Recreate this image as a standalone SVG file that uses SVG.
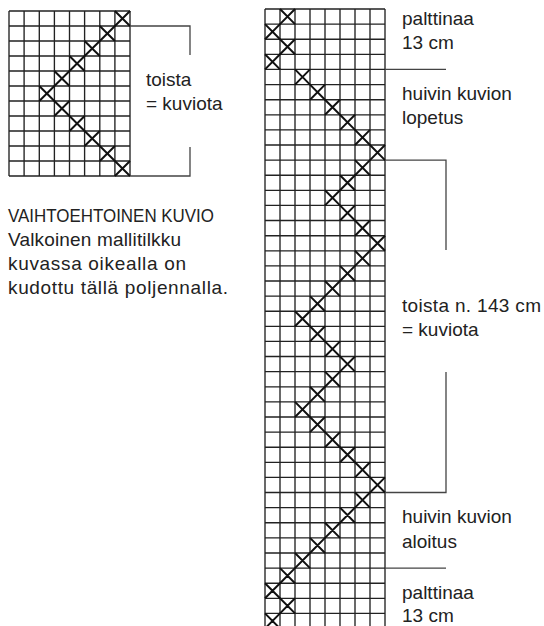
<svg xmlns="http://www.w3.org/2000/svg" width="544" height="626" viewBox="0 0 544 626">
<style>
.grid{fill:none;stroke:#222;stroke-width:1.35}
.x{fill:none;stroke:#111;stroke-width:2}
.br{fill:none;stroke:#444;stroke-width:1.3}
.t{font-family:"Liberation Sans",Arial,sans-serif;font-size:19px;fill:#222}
</style>
<rect width="544" height="626" fill="#fff"/>
<g id="left-grid">
<path class="grid" d="M9 11V176M24.1 11V176M39.3 11V176M54.4 11V176M69.5 11V176M84.6 11V176M99.8 11V176M114.9 11V176M130 11V176M9 11H130M9 26H130M9 41H130M9 56H130M9 71H130M9 86H130M9 101H130M9 116H130M9 131H130M9 146H130M9 161H130M9 176H130"/>
<path class="x" d="M114.9 11L130 26M130 11L114.9 26M99.8 26L114.9 41M114.9 26L99.8 41M84.6 41L99.8 56M99.8 41L84.6 56M69.5 56L84.6 71M84.6 56L69.5 71M54.4 71L69.5 86M69.5 71L54.4 86M39.3 86L54.4 101M54.4 86L39.3 101M54.4 101L69.5 116M69.5 101L54.4 116M69.5 116L84.6 131M84.6 116L69.5 131M84.6 131L99.8 146M99.8 131L84.6 146M99.8 146L114.9 161M114.9 146L99.8 161M114.9 161L130 176M130 161L114.9 176"/>
</g>
<g id="left-bracket">
<path class="br" d="M130 26H190V55M190 147V176H130"/>
<text class="t" x="146" y="86">toista</text>
<text class="t" x="146" y="110">= kuviota</text>
</g>
<g id="left-note">
<text class="t" x="8" y="222" textLength="206" lengthAdjust="spacingAndGlyphs">VAIHTOEHTOINEN KUVIO</text>
<text class="t" x="8" y="246" textLength="173">Valkoinen mallitilkku</text>
<text class="t" x="8" y="270" textLength="178">kuvassa oikealla on</text>
<text class="t" x="8" y="294" textLength="220">kudottu tällä poljennalla.</text>
</g>
<g id="right-grid">
<path class="grid" d="M265 9V626M280 9V626M295 9V626M310 9V626M325 9V626M340 9V626M355 9V626M370 9V626M385 9V626M265 9H385M265 24.1H385M265 39.2H385M265 54.3H385M265 69.4H385M265 84.6H385M265 99.7H385M265 114.8H385M265 129.9H385M265 145H385M265 160.1H385M265 175.2H385M265 190.3H385M265 205.4H385M265 220.5H385M265 235.7H385M265 250.8H385M265 265.9H385M265 281H385M265 296.1H385M265 311.2H385M265 326.3H385M265 341.4H385M265 356.5H385M265 371.6H385M265 386.8H385M265 401.9H385M265 417H385M265 432.1H385M265 447.2H385M265 462.3H385M265 477.4H385M265 492.5H385M265 507.6H385M265 522.7H385M265 537.9H385M265 553H385M265 568.1H385M265 583.2H385M265 598.3H385M265 613.4H385"/>
<path class="x" d="M280 9L295 24.1M295 9L280 24.1M265 24.1L280 39.2M280 24.1L265 39.2M280 39.2L295 54.3M295 39.2L280 54.3M265 54.3L280 69.4M280 54.3L265 69.4M295 69.4L310 84.6M310 69.4L295 84.6M310 84.6L325 99.7M325 84.6L310 99.7M325 99.7L340 114.8M340 99.7L325 114.8M340 114.8L355 129.9M355 114.8L340 129.9M355 129.9L370 145M370 129.9L355 145M370 145L385 160.1M385 145L370 160.1M355 160.1L370 175.2M370 160.1L355 175.2M340 175.2L355 190.3M355 175.2L340 190.3M325 190.3L340 205.4M340 190.3L325 205.4M340 205.4L355 220.5M355 205.4L340 220.5M355 220.5L370 235.7M370 220.5L355 235.7M370 235.7L385 250.8M385 235.7L370 250.8M355 250.8L370 265.9M370 250.8L355 265.9M340 265.9L355 281M355 265.9L340 281M325 281L340 296.1M340 281L325 296.1M310 296.1L325 311.2M325 296.1L310 311.2M295 311.2L310 326.3M310 311.2L295 326.3M310 326.3L325 341.4M325 326.3L310 341.4M325 341.4L340 356.5M340 341.4L325 356.5M340 356.5L355 371.6M355 356.5L340 371.6M325 371.6L340 386.8M340 371.6L325 386.8M310 386.8L325 401.9M325 386.8L310 401.9M295 401.9L310 417M310 401.9L295 417M310 417L325 432.1M325 417L310 432.1M325 432.1L340 447.2M340 432.1L325 447.2M340 447.2L355 462.3M355 447.2L340 462.3M355 462.3L370 477.4M370 462.3L355 477.4M370 477.4L385 492.5M385 477.4L370 492.5M355 492.5L370 507.6M370 492.5L355 507.6M340 507.6L355 522.7M355 507.6L340 522.7M325 522.7L340 537.9M340 522.7L325 537.9M310 537.9L325 553M325 537.9L310 553M295 553L310 568.1M310 553L295 568.1M280 568.1L295 583.2M295 568.1L280 583.2M265 583.2L280 598.3M280 583.2L265 598.3M280 598.3L295 613.4M295 598.3L280 613.4M265 613.4L280 628.5M280 613.4L265 628.5"/>
</g>
<g id="right-labels">
<path class="br" d="M385 69.4H446M385 160.1H446V250M446 372V492.5H385M385 568.1H446"/>
<text class="t" x="402" y="25">palttinaa</text>
<text class="t" x="402" y="49">13 cm</text>
<text class="t" x="402" y="100">huivin kuvion</text>
<text class="t" x="402" y="124">lopetus</text>
<text class="t" x="402" y="312" textLength="139">toista n. 143 cm</text>
<text class="t" x="402" y="336">= kuviota</text>
<text class="t" x="402" y="523">huivin kuvion</text>
<text class="t" x="402" y="548">aloitus</text>
<text class="t" x="402" y="599">palttinaa</text>
<text class="t" x="402" y="622">13 cm</text>
</g>
</svg>
